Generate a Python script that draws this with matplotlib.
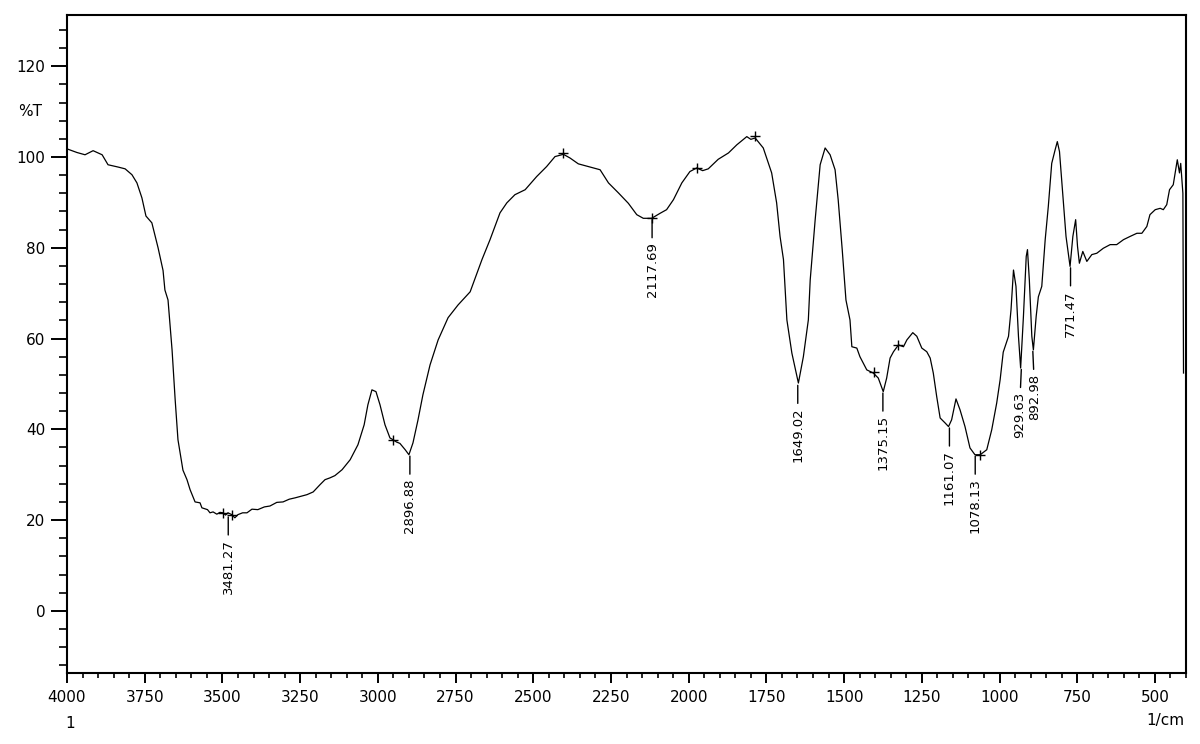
import numpy as np
import matplotlib
matplotlib.use("Agg")
import matplotlib.pyplot as plt
from matplotlib.ticker import MultipleLocator

# FTIR spectrum
wavenumber = [
    4000, 3968, 3942, 3916, 3887, 3868, 3836, 3813, 3791, 3775, 3759, 3746,
    3727, 3707, 3691, 3685, 3675, 3662, 3652, 3643, 3627, 3614, 3604, 3588,
    3572, 3566, 3548, 3540, 3530, 3518, 3508, 3498, 3490, 3482, 3470, 3460,
    3450, 3435, 3421, 3405, 3386, 3365, 3347, 3325, 3305, 3285, 3266, 3245,
    3228, 3208, 3186, 3170, 3154, 3138, 3115, 3089, 3064, 3044, 3032, 3019,
    3006, 2993, 2977, 2961, 2951, 2940, 2929, 2912, 2900, 2887, 2871, 2855,
    2832, 2806, 2774, 2742, 2703, 2665, 2639, 2607, 2585, 2559, 2526, 2489,
    2457, 2430, 2403, 2382, 2355, 2317, 2285, 2258, 2226, 2194, 2167, 2146,
    2119, 2092, 2071, 2049, 2022, 1996, 1974, 1955, 1937, 1905, 1872, 1845,
    1813, 1800, 1786, 1760, 1733, 1717, 1706, 1695, 1684, 1668, 1647, 1631,
    1615, 1609, 1593, 1577, 1561, 1545, 1529, 1519, 1506, 1494, 1481, 1475,
    1459, 1449, 1427, 1406, 1390, 1374, 1363, 1352, 1341, 1325, 1309, 1298,
    1279, 1266, 1250, 1234, 1223, 1213, 1202, 1191, 1175, 1164, 1154, 1140,
    1127, 1111, 1095, 1079, 1062, 1041, 1025, 1009, 998, 988, 971, 963,
    955, 947, 939, 932, 923, 914, 910, 904, 896, 891, 882, 875,
    864, 853, 843, 832, 821, 814, 807, 796, 786, 773, 764, 755,
    749, 743, 732, 719, 703, 687, 666, 644, 623, 601, 580, 558,
    542, 526, 516, 499, 483, 473, 462, 453, 441, 428, 421, 417,
    410, 408,
]
transmittance = [
    101.8, 101.0, 100.5, 101.4, 100.5, 98.3, 97.8, 97.4, 96.1, 94.3, 91.0, 87.0,
    85.5, 80.0, 75.0, 70.7, 68.5, 57.5, 46.5, 37.7, 31.0, 28.9, 26.7, 24.0,
    23.8, 22.7, 22.3, 21.6, 21.8, 21.3, 21.7, 21.6, 21.1, 21.6, 21.2, 20.5,
    21.2, 21.6, 21.6, 22.4, 22.3, 22.9, 23.1, 23.9, 24.0, 24.6, 24.9, 25.3,
    25.6, 26.2, 27.8, 28.9, 29.3, 29.8, 31.1, 33.3, 36.6, 41.0, 45.4, 48.7,
    48.3, 45.4, 41.0, 38.1, 37.7, 37.2, 36.9, 35.5, 34.4, 37.0, 42.0, 47.6,
    54.2, 59.7, 64.6, 67.4, 70.3, 77.4, 81.8, 87.7, 89.9, 91.7, 92.8, 95.7,
    97.9, 100.1, 100.6, 99.8, 98.5, 97.8, 97.2, 94.3, 92.1, 89.8, 87.3, 86.5,
    86.5, 87.6, 88.4, 90.6, 94.3, 96.8, 97.6, 97.0, 97.4, 99.5, 100.9, 102.7,
    104.5, 103.9, 104.2, 102.0, 96.5, 89.9, 82.5, 77.4, 64.1, 56.8, 50.2, 56.0,
    64.1, 72.9, 86.2, 98.3, 102.0, 100.5, 97.2, 90.6, 79.6, 68.5, 64.1, 58.2,
    57.9, 56.0, 53.1, 52.4, 51.3, 48.3, 51.3, 55.7, 57.1, 58.6, 58.2, 59.7,
    61.3, 60.5, 57.9, 57.1, 55.7, 52.4, 47.2, 42.5, 41.4, 40.6, 42.1, 46.7,
    44.3, 40.6, 35.9, 34.4, 34.4, 35.5, 39.9, 45.8, 50.9, 57.0, 60.5, 66.3,
    75.1, 71.5, 60.5, 53.5, 64.9, 78.1, 79.6, 72.9, 60.5, 57.5, 64.9, 69.2,
    71.5, 81.8, 89.1, 98.6, 101.6, 103.4, 101.2, 91.3, 82.5, 75.9, 82.5, 86.2,
    80.3, 76.6, 79.2, 77.0, 78.5, 78.8, 79.9, 80.7, 80.7, 81.8, 82.5, 83.2,
    83.2, 84.7, 87.3, 88.4, 88.7, 88.4, 89.5, 92.8, 93.9, 99.4, 96.5, 98.6,
    92.0, 52.4,
]

# picked peaks (labelled) and unlabelled pick marks
peak_wn = [3481.27, 2896.88, 2117.69, 1649.02, 1375.15, 1161.07, 1078.13,
           929.63, 892.98, 771.47]
peak_t = [21.0, 34.4, 86.5, 50.0, 48.3, 40.6, 34.4, 53.5, 57.5, 75.9]
peak_labels = ["3481.27", "2896.88", "2117.69", "1649.02", "1375.15",
               "1161.07", "1078.13", "929.63", "892.98", "771.47"]

mark_wn = [3497, 3470, 2951, 2403, 2118, 1974, 1786, 1405, 1325, 1062]
mark_t = [21.6, 21.2, 37.7, 100.8, 86.5, 97.6, 104.6, 52.6, 58.5, 34.4]

W, H = 1200, 744
fig = plt.figure(figsize=(W / 100, H / 100), dpi=100)
ax = fig.add_axes([67 / W, 1 - 673 / H, (1186 - 67) / W, (673 - 15) / H])

ax.plot(wavenumber, transmittance, color="black", lw=0.9)
ax.plot(mark_wn, mark_t, ls="none", marker="+", color="black", ms=7, mew=1)

# the two close peaks near 900 need their labels nudged apart
nudge = {"929.63": -1.5, "892.98": 1.5}
for wn, t, lab in zip(peak_wn, peak_t, peak_labels):
    ax.annotate(lab, xy=(wn, t), xytext=(nudge.get(lab, 0), -17),
                textcoords="offset points", rotation=90, ha="center",
                va="top", fontsize=9.5,
                arrowprops=dict(arrowstyle="-", lw=1, color="black",
                                shrinkA=1, shrinkB=1))

ax.set_xlim(4000, 400)
ax.set_ylim(-13.7, 131.3)
ax.xaxis.set_minor_locator(MultipleLocator(50))
ax.yaxis.set_minor_locator(MultipleLocator(4))
ax.set_xticks([4000, 3750, 3500, 3250, 3000, 2750, 2500, 2250, 2000, 1750,
               1500, 1250, 1000, 750, 500])
ax.set_yticks([0, 20, 40, 60, 80, 100, 120])

ax.tick_params(axis="x", which="major", direction="out", length=7, width=1.4,
               labelsize=11, pad=5)
ax.tick_params(axis="x", which="minor", direction="out", length=3.6, width=1.2)
ax.tick_params(axis="y", which="major", direction="out", length=11.5,
               width=1.4, labelsize=11, pad=4)
ax.tick_params(axis="y", which="minor", direction="out", length=5.5, width=1.2)
for sp in ax.spines.values():
    sp.set_linewidth(1.5)

fig.text(30 / W, 1 - 112 / H, "%T", ha="center", va="center", fontsize=11)
fig.text(70 / W, 1 - 724 / H, "1", ha="center", va="center", fontsize=11)
fig.text(1165 / W, 1 - 720 / H, "1/cm", ha="center", va="center", fontsize=11)

fig.savefig("out.png", dpi=100)
